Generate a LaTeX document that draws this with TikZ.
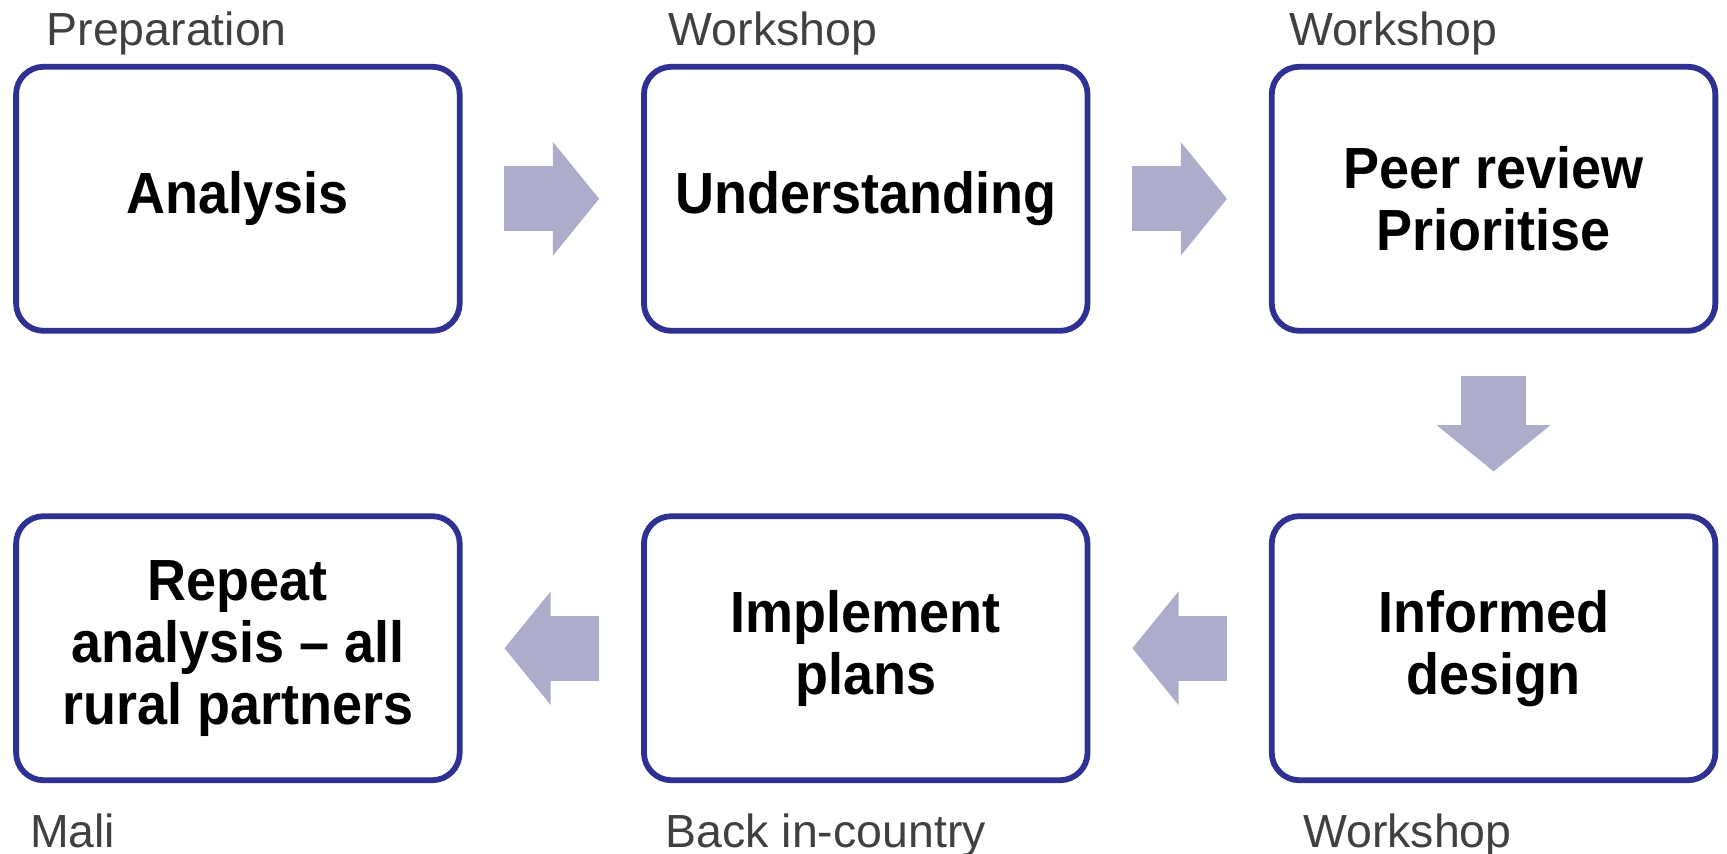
\documentclass[tikz,border=0pt]{standalone}
\usepackage{fontspec}
\setmainfont{Liberation Sans}
\newfontfamily\stagefont{Liberation Sans}[FakeStretch=0.93]
\usepackage{tikz}
\usetikzlibrary{positioning,arrows.meta}
\definecolor{boxblue}{RGB}{46,49,146}
\definecolor{flowgray}{RGB}{173,173,203}
\definecolor{notegray}{RGB}{64,64,64}

\begin{document}
\begin{tikzpicture}[
  stage/.style={draw=boxblue,line width=3pt,rounded corners=0.5cm,minimum width=8.055cm,minimum height=4.795cm,align=center,font=\stagefont\bfseries\fontsize{30}{32}\selectfont},
  note/.style={inner sep=0pt,anchor=base west,text=notegray,font=\fontsize{24}{28}\selectfont},
  flow/.style={draw=flowgray,line width=1.18cm,shorten <=0.76cm,shorten >=0.76cm,-{Triangle[length=0.84cm,width=2.02cm]}}]
\useasboundingbox (0,0) rectangle (31.36,15.49);
\node[stage] (analysis) at (4.32,11.88) {Analysis};
\node[stage,right=3.24cm of analysis] (understanding) {Understanding};
\node[stage,right=3.24cm of understanding] (peer) {Peer review\\Prioritise};
\node[stage,below=3.26cm of peer] (informed) {Informed\\design};
\node[stage,left=3.24cm of informed] (implement) {Implement\\plans};
\node[stage,left=3.24cm of implement] (repeat) {Repeat\\analysis – all\\rural partners};
\node[note] (prep) at ([xshift=0.6cm,yshift=0.34cm]analysis.north west) {Preparation};
\node[note] (wsA) at ([xshift=0.5cm,yshift=0.34cm]understanding.north west) {Workshop};
\node[note] (wsB) at ([xshift=0.36cm,yshift=0.34cm]peer.north west) {Workshop};
\node[note] (mali) at ([xshift=0.3cm,yshift=-1.16cm]repeat.south west) {Mali};
\node[note] (back) at ([xshift=0.44cm,yshift=-1.16cm]implement.south west) {Back in-country};
\node[note] (wsC) at ([xshift=0.62cm,yshift=-1.16cm]informed.south west) {Workshop};
\draw[flow] (analysis) -- (understanding);
\draw[flow] (understanding) -- (peer);
\draw[flow] (peer) -- (informed);
\draw[flow] (informed) -- (implement);
\draw[flow] (implement) -- (repeat);
\end{tikzpicture}
\end{document}
